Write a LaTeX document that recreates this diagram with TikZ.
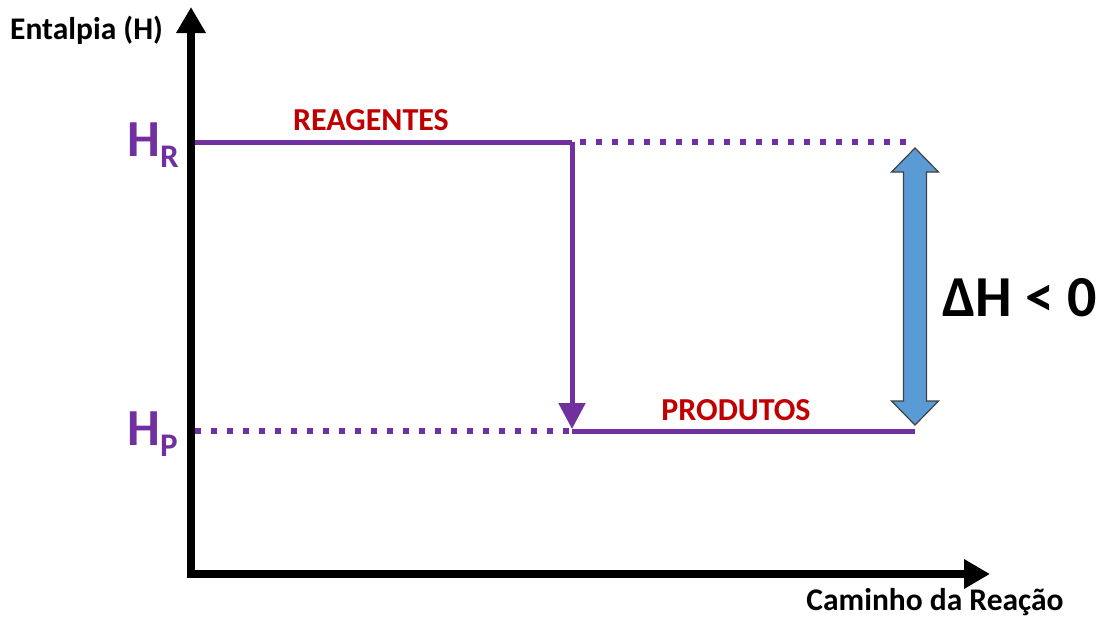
\documentclass[tikz,border=0pt]{standalone}
\usepackage{fontspec}
\setmainfont{Carlito}
\usetikzlibrary{arrows.meta}
\definecolor{purp}{HTML}{7030A0}
\definecolor{redt}{HTML}{C00000}
\definecolor{bluef}{HTML}{5B9BD5}
\tikzset{
  axisline/.style={line width=8pt, -{Triangle[length=26pt,width=28pt]}},
  levelline/.style={purp, line width=5pt},
  dotline/.style={purp, line width=6pt, dash pattern=on 6pt off 10pt},
  lbl/.style={font=\bfseries\fontsize{31.5}{34}\selectfont, inner sep=0pt},
  redlbl/.style={font=\bfseries\fontsize{32}{34}\selectfont, text=redt, inner sep=0pt},
  hlbl/.style={font=\bfseries\fontsize{52}{56}\selectfont, text=purp, inner sep=0pt},
}
\begin{document}
\begin{tikzpicture}[x=1pt,y=-1pt]
\useasboundingbox (0,0) rectangle (1106,619);
% coordinates
\coordinate (o) at (191,574);
\coordinate (ybot) at (191,578);
\coordinate (ytop) at (191,7);
\coordinate (xl) at (187,574);
\coordinate (xr) at (990,574);
\coordinate (r0) at (195,142);
\coordinate (r1) at (572,142);
\coordinate (r2) at (580,142);
\coordinate (r3) at (915,142);
\coordinate (p0) at (195,431);
\coordinate (p1) at (572,431);
\coordinate (p2) at (915,431);
\coordinate (ptip) at (572,429);
% axes
\draw[axisline] (ybot) -- (ytop);
\draw[axisline] (xl) -- (xr);
% levels
\draw[levelline] (r0) -- (r1);
\draw[dotline] (r2) -- (r3);
\draw[dotline] (p0) -- (p1);
\draw[levelline] (p1) -- (p2);
\draw[levelline, -{Triangle[length=26pt,width=26pt]}] (r1) -- (ptip);
% blue double arrow
\draw[fill=bluef, draw=black!75, line width=1.2pt, line join=miter]
  (915,148) -- (938.5,172) -- (926.5,172) -- (926.5,401) -- (938.5,401) -- (915,425)
  -- (891.5,401) -- (903.5,401) -- (903.5,172) -- (891.5,172) -- cycle;
% labels
\node[lbl, anchor=west] (ent) at (10,30) {Entalpia (H)};
\node[lbl, anchor=base] (cam) at (935,610) {Caminho da Reação};
\node[redlbl] (reag) at (371,120) {REAGENTES};
\node[redlbl] (prod) at (736,410) {PRODUTOS};
\node[font=\bfseries\fontsize{58}{62}\selectfont, inner sep=0pt, anchor=west] (dh) at (942,298) {ΔH < 0};
\node[hlbl, anchor=base west, draw=none] (hr) at (127,156) {H\raisebox{-0.22em}{\fontsize{33}{35}\selectfont R}};
\node[hlbl, anchor=base west, draw=none] (hp) at (127,445) {H\raisebox{-0.22em}{\fontsize{33}{35}\selectfont P}};
\end{tikzpicture}
\end{document}
